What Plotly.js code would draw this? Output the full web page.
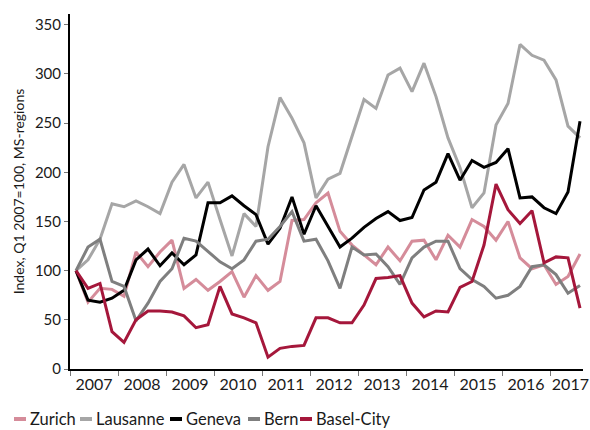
<!DOCTYPE html>
<html>
<head>
<meta charset="utf-8">
<script src="https://cdn.plot.ly/plotly-3.0.1.min.js"></script>
<style>html,body{margin:0;padding:0;background:#fff;}#chart{width:590px;height:430px;}</style>
</head>
<body>
<div id="chart"></div>
<script>
// Quarterly index, Q1 2007 = 100 (Q1 2007 .. Q3 2017)
const years = ["2007","2008","2009","2010","2011","2012","2013","2014","2015","2016","2017"];
const seriesNames = ["Zurich","Lausanne","Geneva","Bern","Basel-City"];
const zurich   = [100,68,82,81,74,119,104,119,131,82,91,80,89,99,73,95,80,89,151,152,169,179,140,126,116,106,124,110,130,131,111,136,124,152,145,131,150,113,102,106,86,94,117];
const lausanne = [100,111,132,168,165,171,165,158,190,208,174,190,152,115,158,145,226,276,255,230,174,193,199,236,274,265,299,306,282,311,277,235,205,164,179,248,270,330,319,314,294,247,235];
const geneva   = [100,70,68,72,80,111,122,105,118,106,116,169,169,176,166,157,127,143,175,137,166,145,124,133,144,153,160,151,154,182,190,219,192,212,205,210,224,174,175,164,158,180,252];
const bern     = [100,124,132,89,84,49,67,89,102,133,130,119,109,102,111,130,132,145,160,130,132,110,82,124,116,117,104,86,113,124,130,130,102,91,84,72,75,84,104,106,96,77,85];
const basel    = [100,82,87,38,27,50,59,59,58,54,42,45,84,56,52,47,12,21,23,24,52,52,47,47,65,92,93,95,67,53,59,58,83,89,126,188,162,148,161,108,114,113,62];

const colors = ["#d58c9a","#a6a6a6","#000000","#7f7f7f","#a5173b"];
const allData = [zurich, lausanne, geneva, bern, basel];

const xIdx = zurich.map((_, i) => i);
const traces = allData.map((d, k) => ({
  type: "scatter", mode: "lines", x: xIdx, y: d, name: seriesNames[k],
  line: {color: colors[k], width: 3}, showlegend: false
}));

// plot area geometry (pixels)
const W = 590, H = 430, L = 70, R = 7, T = 14, B = 61;
const pw = W - L - R, ph = H - T - B;
const px = x => (x - L) / pw;
const py = y => (H - B - y) / ph;

const legendX = [14, 80, 170, 248, 300];
const legY = 419;
const shapes = [], annotations = [];
seriesNames.forEach((n, k) => {
  shapes.push({type: "line", xref: "paper", yref: "paper",
    x0: px(legendX[k]), x1: px(legendX[k] + 12), y0: py(legY), y1: py(legY),
    line: {color: colors[k], width: 4}});
  annotations.push({xref: "paper", yref: "paper", x: px(legendX[k] + 14), y: py(legY),
    xanchor: "left", yanchor: "middle", text: n, showarrow: false,
    font: {family: "Lato, sans-serif", size: 16.5, color: "#1a1a1a"}});
});

// year labels centred in each year; the last one nudged left so it stays inside the page
const yearPos = years.map((_, i) => Math.min(1.5 + 4 * i, 41.2));

const layout = {
  width: W, height: H,
  margin: {l: L, r: R, t: T, b: B},
  paper_bgcolor: "#fff", plot_bgcolor: "#fff",
  font: {family: "Lato, sans-serif", color: "#1a1a1a"},
  xaxis: {
    range: [-0.5, 42.25], showgrid: false, zeroline: false,
    showline: true, linecolor: "#000", linewidth: 2,
    tickmode: "array", tickvals: yearPos, ticktext: years,
    ticks: "", ticklabeloverflow: "allow", tickfont: {size: 16, color: "#1a1a1a"},
    minor: {ticks: "outside", tick0: -0.5, dtick: 4, ticklen: 5, tickcolor: "#777", tickwidth: 1, showgrid: false}
  },
  yaxis: {
    range: [0, 361], showgrid: false, zeroline: false,
    showline: true, linecolor: "#000", linewidth: 2,
    tickmode: "array", tickvals: [0,50,100,150,200,250,300,350],
    ticks: "outside", ticklen: 4, tickcolor: "#777", tickwidth: 1,
    tickfont: {size: 15, color: "#1a1a1a"},
    title: {text: "Index, Q1 2007=100, MS-regions", font: {size: 14, color: "#1a1a1a"}, standoff: 7}
  },
  shapes: shapes, annotations: annotations, showlegend: false
};

Plotly.newPlot("chart", traces, layout, {displayModeBar: false, staticPlot: true});
</script>
</body>
</html>
